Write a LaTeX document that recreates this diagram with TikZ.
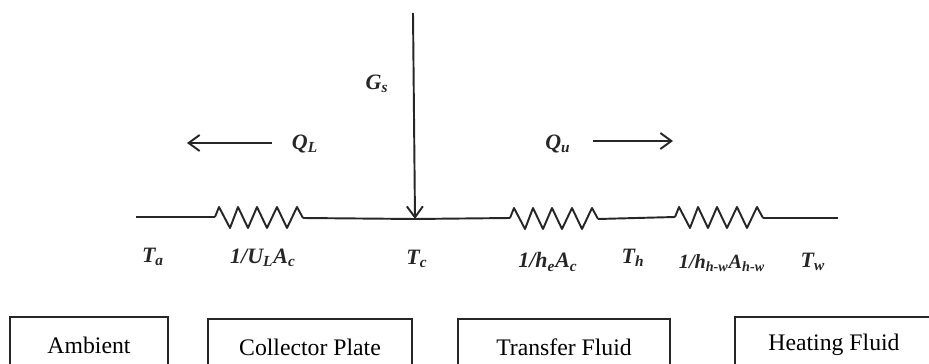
\documentclass[tikz,border=0pt]{standalone}
\usepackage{fontspec}
\setmainfont{Liberation Serif}
\usetikzlibrary{arrows.meta,calc,positioning}
\tikzset{
    wire/.style={line width=1.1pt,color=black!85},
    flow/.style={line width=1.1pt,color=black!85,-{Straight Barb[length=2.2mm,width=3.2mm]}},
    label/.style={font=\fontsize{12.5}{15}\selectfont\itshape\bfseries,color=black!85,inner sep=0pt},
    stagebox/.style={draw=black!85,line width=0.9pt,font=\fontsize{13.5}{16}\selectfont,minimum height=1.12cm,inner sep=0pt},
    pics/resistor/.style={code={
        \coordinate (-in) at (0,0);
        \coordinate (-out) at (88,1);
        \draw[wire,line join=round] (0,0) -- (4,-10) -- (15,11) -- (23,-10) -- (33,11) -- (42,-10)
            -- (52,11) -- (62,-10) -- (72,11) -- (82,-10) -- (88,1);
    }}
}
\begin{document}
\begin{tikzpicture}[x=0.02cm,y=-0.02cm]
    \useasboundingbox (0,0) rectangle (929,364);

    % free ends of the line
    \coordinate (left) at (136,217);
    \coordinate (right) at (838,218);
    \coordinate (plate) at (415,219);
    \coordinate (solar) at (413,13);

    % the three resistors
    \pic (rloss) at (215,217) {resistor};
    \pic (rplate) at (510,218) {resistor};
    \pic (rfluid) at (675,217) {resistor};

    % draw the line
    \draw[wire] (left) -- (rloss-in);
    \draw[wire] (rloss-out) -- (plate) -- (rplate-in);
    \draw[wire] (rplate-out) -- (rfluid-in);
    \draw[wire] (rfluid-out) -- (right);

    % heat flows
    \draw[flow] (solar) -- (plate);
    \coordinate (lossa) at (272,143);
    \coordinate (lossb) at (187,143);
    \coordinate (gaina) at (593,141);
    \coordinate (gainb) at (673,141);
    \draw[flow] (lossa) -- (lossb);
    \draw[flow] (gaina) -- (gainb);

    % label the flows
    \node[label] (gs) at (377,84) {G\textsubscript{s}};
    \node[label] (ql) at (305,144) {Q\textsubscript{L}};
    \node[label] (qu) at (558,144) {Q\textsubscript{u}};

    % label the temperatures and resistances
    \node[label] (ta) at (153,257) {T\textsubscript{a}};
    \node[label] (ul) at (263,258) {1/U\textsubscript{L}A\textsubscript{c}};
    \node[label] (tc) at (417,259) {T\textsubscript{c}};
    \node[label] (he) at (548,262) {1/h\textsubscript{e}A\textsubscript{c}};
    \node[label] (th) at (633,258) {T\textsubscript{h}};
    \node[label,font=\fontsize{11.5}{15}\selectfont\itshape\bfseries] (hh) at (722,263) {1/h\textsubscript{h-w}A\textsubscript{h-w}};
    \node[label] (tw) at (813,262) {T\textsubscript{w}};

    % the stages below
    \node[stagebox,minimum width=3.16cm] (ambient) at (89,345) {Ambient};
    \node[stagebox,minimum width=4.08cm] (collector) at (310,347) {Collector Plate};
    \node[stagebox,minimum width=4.24cm] (transfer) at (564,347) {Transfer Fluid};
    \node[stagebox,minimum width=3.96cm] (heating) at (834,345) {Heating Fluid};
\end{tikzpicture}
\end{document}
